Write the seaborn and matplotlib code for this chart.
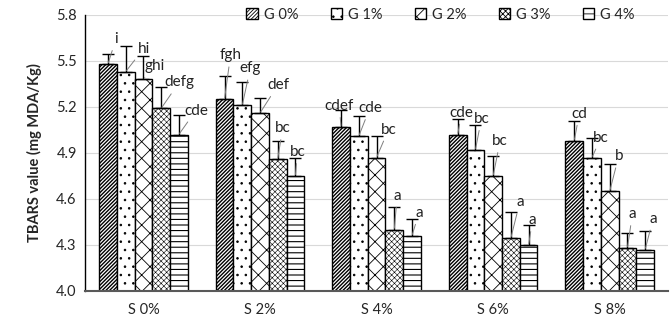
import matplotlib
matplotlib.use("Agg")
import matplotlib.pyplot as plt
import seaborn as sns
import numpy as np
import pandas as pd

# ---- data ----
salt_levels = ["S 0%", "S 2%", "S 4%", "S 6%", "S 8%"]
groups = ["G 0%", "G 1%", "G 2%", "G 3%", "G 4%"]
# values[group][salt]
g0_vals = [5.48, 5.25, 5.07, 5.02, 4.98]
g1_vals = [5.43, 5.21, 5.01, 4.92, 4.87]
g2_vals = [5.38, 5.16, 4.87, 4.75, 4.65]
g3_vals = [5.19, 4.86, 4.40, 4.345, 4.28]
g4_vals = [5.02, 4.75, 4.36, 4.30, 4.27]
g0_err = [0.065, 0.15, 0.11, 0.10, 0.13]
g1_err = [0.17, 0.15, 0.13, 0.16, 0.13]
g2_err = [0.15, 0.10, 0.14, 0.13, 0.18]
g3_err = [0.14, 0.12, 0.15, 0.17, 0.10]
g4_err = [0.13, 0.12, 0.11, 0.13, 0.12]
g0_lab = ["i", "fgh", "cdef", "cde", "cd"]
g1_lab = ["hi", "efg", "cde", "bc", "bc"]
g2_lab = ["ghi", "def", "bc", "bc", "b"]
g3_lab = ["defg", "bc", "a", "a", "a"]
g4_lab = ["cde", "bc", "a", "a", "a"]

all_vals = [g0_vals, g1_vals, g2_vals, g3_vals, g4_vals]
all_err = [g0_err, g1_err, g2_err, g3_err, g4_err]
all_lab = [g0_lab, g1_lab, g2_lab, g3_lab, g4_lab]

rows = []
for g, vals in zip(groups, all_vals):
    for s, v in zip(salt_levels, vals):
        rows.append({"Salt": s, "Group": g, "TBARS": v})
df = pd.DataFrame(rows)

# ---- style ----
sns.set_style("white")
plt.rcParams["font.family"] = ["Lato", "DejaVu Sans"]
plt.rcParams["hatch.linewidth"] = 0.6

fig = plt.figure(figsize=(6.7, 3.24), dpi=100)
ax = fig.add_axes([0.127, 0.102, 0.870, 0.852])

sns.barplot(data=df, x="Salt", y="TBARS", hue="Group", order=salt_levels,
            hue_order=groups, palette=["white"] * 5, width=0.76,
            edgecolor="black", linewidth=1.0, errorbar=None, legend=False, ax=ax)

hatches = ["/////////", "..", "xx", "xxxxxx", "---"]
hatch_lw = [1.0, 0.6, 0.6, 0.4, 0.8]

# label offsets in pixels (dx, dy) for each group / salt
label_offsets = [
    [(8, 25), (6, 44), (-2, 21), (4, 22), (5, 27)],
    [(18, 23), (8, 37), (11, 28), (6, 31), (9, 20)],
    [(11, 13), (18, 28), (12, 28), (7, 35), (9, 35)],
    [(18, 26), (5, 31), (3, 34), (9, 36), (5, 34)],
    [(17, 24), (2, 24), (7, 23), (4, 25), (8, 31)],
]

bar_containers = list(ax.containers)
for gi, cont in enumerate(bar_containers):
    xs, ys = [], []
    for bar in cont.patches:
        bar.set_hatch(hatches[gi])
        bar.set_facecolor("white")
        bar.set_edgecolor("black")
        if hasattr(bar, "set_hatch_linewidth"):
            bar.set_hatch_linewidth(hatch_lw[gi])
        xs.append(bar.get_x() + bar.get_width() / 2)
        ys.append(bar.get_height())
    errs = all_err[gi]
    ax.errorbar(xs, ys, yerr=[np.zeros(len(errs)), errs], fmt="none",
                ecolor="black", elinewidth=1.0, capsize=4, capthick=1.0, zorder=3)
    for j, (x, y) in enumerate(zip(xs, ys)):
        dx, dy = label_offsets[gi][j]
        ax.annotate(all_lab[gi][j], xy=(x, y), xytext=(dx, dy),
                    textcoords="offset pixels", ha="center", va="center",
                    fontsize=11, color="#222222",
                    arrowprops=dict(arrowstyle="-", color="#7f7f7f", lw=0.7,
                                    shrinkA=1, shrinkB=1), zorder=4)

ax.set_ylim(4.0, 5.8)
ax.set_yticks(np.arange(4.0, 5.81, 0.3))
ax.set_yticklabels([f"{t:.1f}" for t in np.arange(4.0, 5.81, 0.3)], fontsize=10.5)
ax.tick_params(axis="x", labelsize=10.5, length=0, pad=9)
ax.tick_params(axis="y", length=0, pad=6)
ax.yaxis.grid(True, color="#d9d9d9", lw=0.8)
ax.set_axisbelow(True)
ax.set_xlabel("")
ax.set_ylabel("TBARS value (mg MDA/Kg)", fontsize=10.5, fontweight="bold", labelpad=10)
for s in ["top", "right"]:
    ax.spines[s].set_visible(False)
ax.spines["left"].set_color("black")
ax.spines["left"].set_linewidth(1.0)
ax.spines["bottom"].set_color("#595959")
ax.spines["bottom"].set_linewidth(1.5)
ax.set_xlim(-0.5, 4.5)

handles = [c.patches[0] for c in bar_containers]
leg = ax.legend(handles, groups, ncol=5, loc="center", bbox_to_anchor=(0.61, 1.0),
                frameon=False, fontsize=10.5, handlelength=0.8, handleheight=0.8,
                handletextpad=0.4, columnspacing=2.2)

fig.savefig("out.png", dpi=100)
